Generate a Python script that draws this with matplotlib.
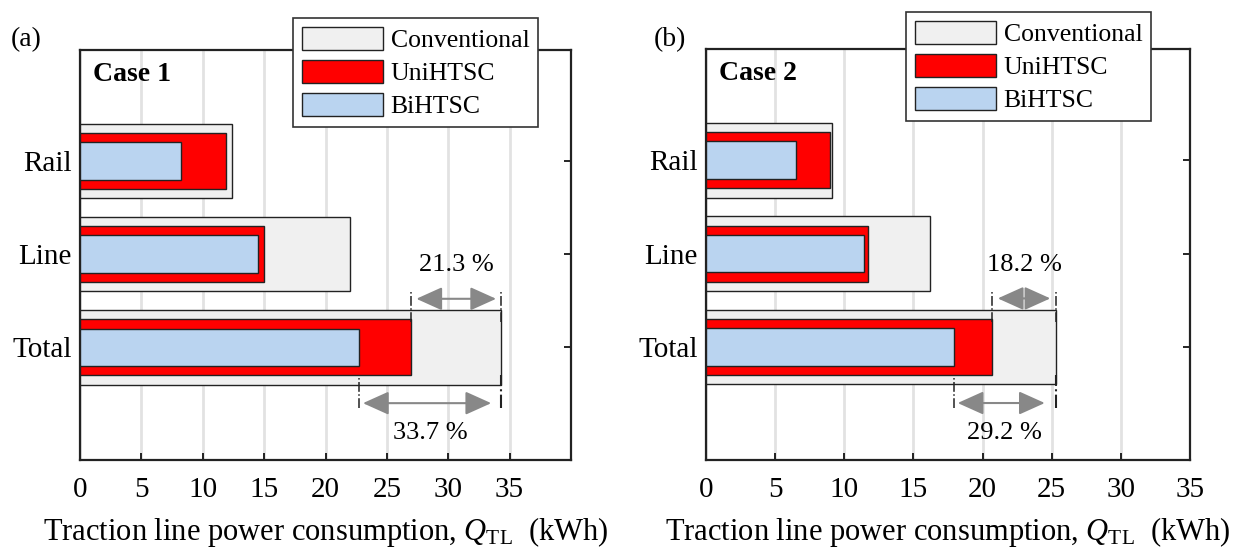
import numpy as np
import matplotlib
matplotlib.use('Agg')
import matplotlib.pyplot as plt

plt.rcParams['font.family'] = ['Liberation Serif', 'DejaVu Serif']
plt.rcParams['mathtext.fontset'] = 'custom'
plt.rcParams['mathtext.rm'] = 'Liberation Serif'
plt.rcParams['mathtext.it'] = 'Liberation Serif:italic'

#===============================
categories = ['Rail', 'Line', 'Total']
series = ['Conventional', 'UniHTSC', 'BiHTSC']

case1_conv = [12.4, 22.0, 34.3]
case1_uni = [11.9, 15.0, 27.0]
case1_bi = [8.2, 14.5, 22.75]

case2_conv = [9.1, 16.2, 25.3]
case2_uni = [9.0, 11.7, 20.7]
case2_bi = [6.5, 11.45, 17.9]

pct_upper = ['21.3 %', '18.2 %']
pct_lower = ['33.7 %', '29.2 %']

colors = ['#f0f0f0', '#ff0000', '#bad4f0']
widths = [0.8, 0.6, 0.4]


#==================================
def DrawPanel(fig, rect, conv, uni, bi, xmax, case, tag, up, low, legpos):
  ax = fig.add_axes(rect)
  pos = np.array([3, 2, 1])
  for vals, c, w, lab in zip([conv, uni, bi], colors, widths, series):
    ax.barh(pos, vals, height=w, color=c, edgecolor='#222222',
            linewidth=1.0, label=lab, zorder=3)

  ax.set_xlim(0, xmax)
  ax.set_ylim(-0.21, 4.19)
  ax.set_xticks(np.arange(0, 36, 5))
  ax.set_yticks(pos)
  ax.set_yticklabels(categories)
  ax.tick_params(axis='both', direction='in', labelsize=21, width=1.2,
                 length=5, right=True, pad=6)
  ax.tick_params(axis='x', pad=12)
  ax.xaxis.grid(True, color='#e2e2e2', linewidth=2, zorder=0)
  ax.set_axisbelow(True)
  for s in ax.spines.values():
    s.set_linewidth(1.6)
    s.set_color('#222222')

  ax.set_xlabel('Traction line power consumption, $Q_{\\mathrm{TL}}$  (kWh)',
                fontsize=22, labelpad=9)

  ax.text(0.026, 0.94, case, transform=ax.transAxes, fontsize=20,
          fontweight='bold', va='center', ha='left')

  # total row annotations
  tc, tu, tb = conv[2], uni[2], bi[2]
  arrow = dict(arrowstyle='<|-|>,head_length=1.0,head_width=0.45',
               color='#888888', lw=1.5, shrinkA=0, shrinkB=0,
               mutation_scale=16)
  ax.plot([tu, tu], [1.27, 1.6], color='#222222', ls='-.', lw=1.1, zorder=4)
  ax.plot([tc, tc], [1.27, 1.6], color='#222222', ls='-.', lw=1.1, zorder=4)
  ax.annotate('', xy=(tc - 0.4, 1.52), xytext=(tu + 0.4, 1.52),
              arrowprops=arrow, zorder=5)
  ax.text((tu + tc) / 2, 1.88, up, ha='center', va='center', fontsize=19)

  ax.plot([tb, tb], [0.35, 0.7], color='#222222', ls='-.', lw=1.1, zorder=4)
  ax.plot([tc, tc], [0.35, 0.7], color='#222222', ls='-.', lw=1.5, zorder=4)
  ax.annotate('', xy=(tc - 0.8, 0.4), xytext=(tb + 0.3, 0.4),
              arrowprops=arrow, zorder=5)
  ax.text((tb + tc) / 2, 0.08, low, ha='center', va='center', fontsize=19)

  leg = ax.legend(loc='upper left', bbox_to_anchor=legpos,
                  bbox_transform=fig.transFigure, borderaxespad=0,
                  fontsize=18.5, handlelength=3.15, handleheight=1.0,
                  labelspacing=0.3, handletextpad=0.3, borderpad=0.35,
                  fancybox=False, framealpha=1, edgecolor='#333333')
  leg.get_frame().set_linewidth(1.2)
  leg.set_zorder(10)

  fig.text(tag[1], 1 - 40 / 548, tag[0], fontsize=20, va='center', ha='left')
  return ax


def DrawFig(filename):
  fig = plt.figure(figsize=(12.34, 5.48), dpi=100)
  W, H = 1234.0, 548.0
  DrawPanel(fig, [80 / W, 88 / H, 491 / W, 410 / H],
            case1_conv, case1_uni, case1_bi, 40, 'Case 1', ('(a)', 11 / W),
            pct_upper[0], pct_lower[0], (293 / W, 1 - 18 / H))
  DrawPanel(fig, [706 / W, 88 / H, 484 / W, 411 / H],
            case2_conv, case2_uni, case2_bi, 35, 'Case 2', ('(b)', 654 / W),
            pct_upper[1], pct_lower[1], (906 / W, 1 - 12 / H))
  plt.savefig(filename, dpi=100)
  return


#==================================
def main():
  DrawFig('out.png')
  return


if __name__ == '__main__':
  main()
